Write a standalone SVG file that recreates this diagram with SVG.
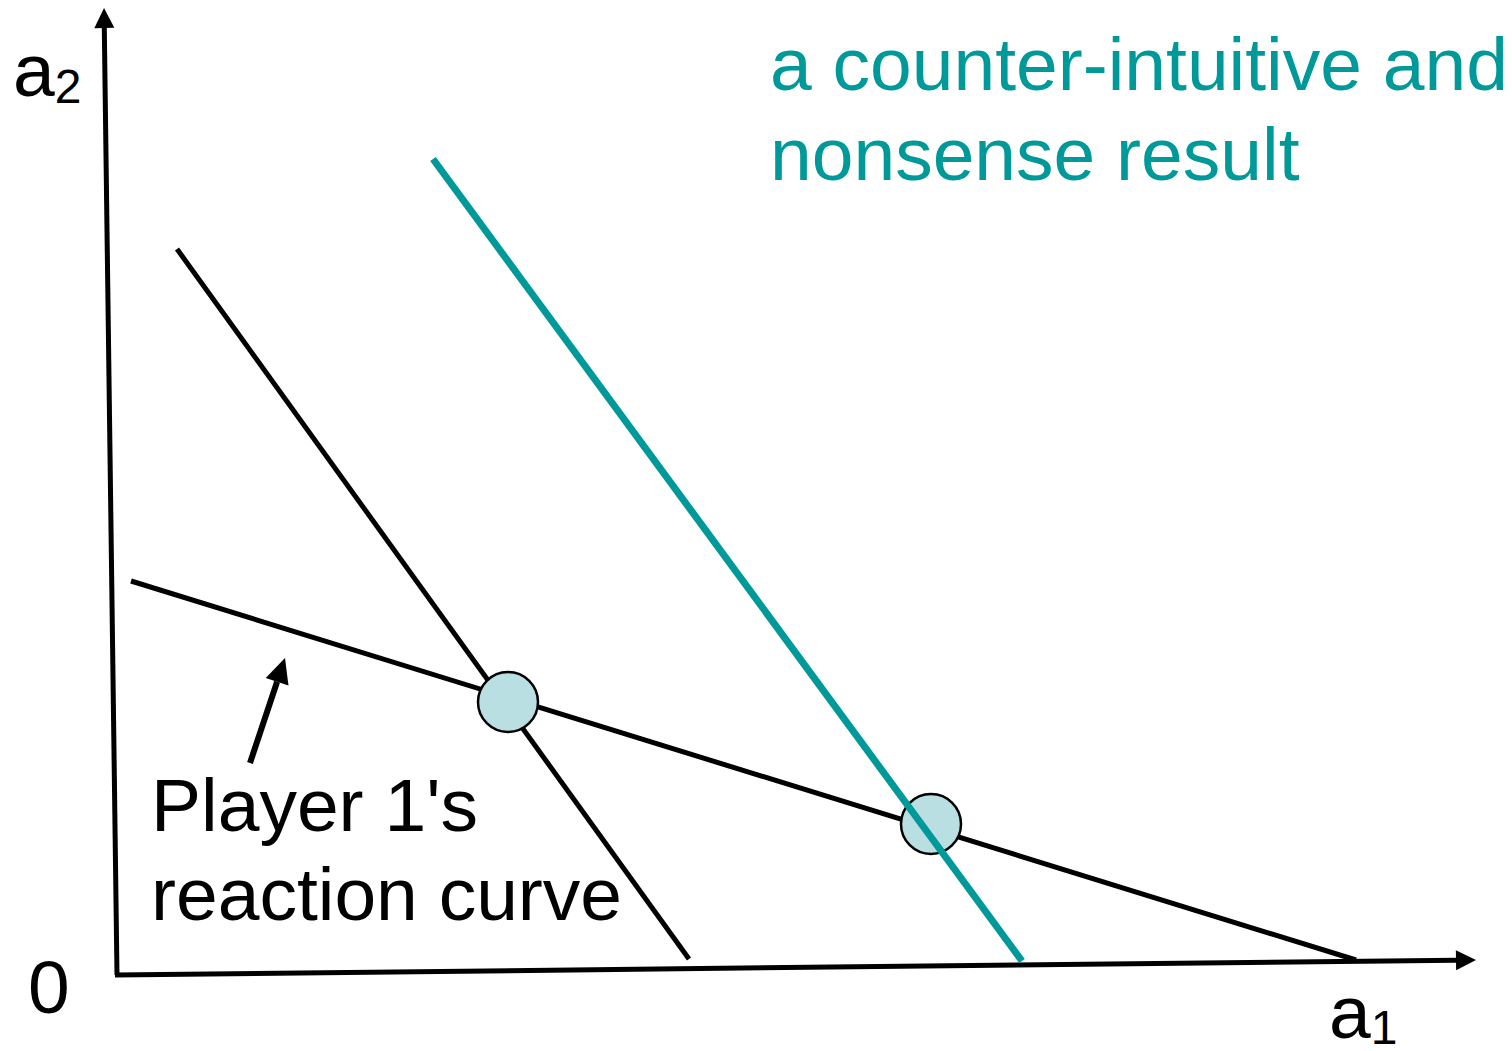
<svg xmlns="http://www.w3.org/2000/svg" width="1512" height="1051" viewBox="0 0 1512 1051">
<style>
text{font-family:"Liberation Sans",Arial,sans-serif;font-size:75px;fill:#000}
.teal{fill:#009999}
.ln{stroke:#000;stroke-width:5;fill:none}
.pt{fill:#B9DFE3;stroke:#000;stroke-width:2.5}
</style>
<defs>
<marker id="ah" markerWidth="22" markerHeight="22" refX="0" refY="10" orient="auto" markerUnits="userSpaceOnUse" overflow="visible">
<path d="M0,0 L20,10 L0,20 Z" fill="#000"/>
</marker>
<marker id="ah2" markerWidth="28" markerHeight="28" refX="0" refY="12" orient="auto" markerUnits="userSpaceOnUse" overflow="visible">
<path d="M0,0 L25,12 L0,24 Z" fill="#000"/>
</marker>
</defs>
<g id="axes">
<line class="ln" x1="117" y1="975" x2="104.3" y2="28" marker-end="url(#ah)"/>
<line class="ln" x1="115" y1="975" x2="1456" y2="960.2" marker-end="url(#ah)"/>
</g>
<g id="connectors">
<line class="ln" x1="177" y1="249" x2="689" y2="959"/>
<line class="ln" x1="131" y1="581" x2="1356" y2="960"/>
<line x1="250" y1="763" x2="277.1" y2="681.7" stroke="#000" stroke-width="6" marker-end="url(#ah2)"/>
</g>
<g id="eq1"><circle class="pt" cx="508" cy="702" r="30"/></g>
<g id="eq2"><circle class="pt" cx="931" cy="824" r="30"/></g>
<g id="teal-line"><line x1="433" y1="159" x2="1022" y2="961" stroke="#009999" stroke-width="7"/></g>
<g id="labels">
<text x="13" y="96">a<tspan font-size="48" dy="7">2</tspan></text>
<text x="28" y="1013">0</text>
<text x="1329" y="1038">a<tspan font-size="48" dy="6">1</tspan></text>
<text x="151" y="831">Player 1's</text>
<text x="151" y="920">reaction curve</text>
<text class="teal" x="770" y="90">a counter-intuitive and</text>
<text class="teal" x="770" y="180">nonsense result</text>
</g>
</svg>
